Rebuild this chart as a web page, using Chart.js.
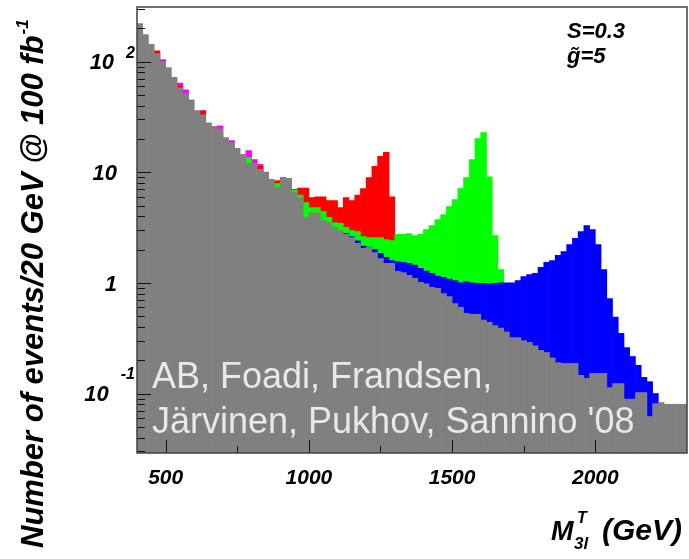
<!DOCTYPE html>
<html>
<head>
<meta charset="utf-8">
<title>M3l transverse mass distribution</title>
<script src="https://cdn.jsdelivr.net/npm/chart.js@4.4.1/dist/chart.umd.min.js"></script>
<style>
  html, body { margin: 0; padding: 0; background: #ffffff; }
  #box { width: 689px; height: 559px; }
</style>
</head>
<body>
<div id="box"><canvas id="plot" width="689" height="559"></canvas></div>
<script>
// Histogram binning (GeV)
const binStart = 400
const binWidth = 20

// Events / 20 GeV, one entry per bin (null = not visible)
const background = [
  220, 175, 143, 118, 100, 88, 72, 58, 51, 45,
  36, 33, 28, 26, 24.5, 20.5, 18.5, 16.4, 14.5, 12.0,
  12.0, 10.6, 10.0, 8.6, 7.3, 9.0, 8.8, 6.6, 5.9, 3.9,
  4.3, 4.3, 3.66, 3.5, 3.17, 2.97, 2.74, 2.57, 2.27, 2.05,
  2.09, 1.88, 1.66, 1.5, 1.5, 1.27, 1.24, 1.17, 1.1, 1.01,
  0.98, 0.91, 0.89, 0.80, 0.75, 0.65, 0.60, 0.53, 0.52, 0.52,
  0.46, 0.44, 0.41, 0.39, 0.36, 0.32, 0.32, 0.30, 0.29, 0.27,
  0.245, 0.235, 0.21, 0.19, 0.187, 0.187, 0.187, 0.146, 0.137, 0.152,
  0.152, 0.152, 0.113, 0.123, 0.123, 0.089, 0.089, 0.102, 0.102, 0.062,
  0.081, 0.083, 0.080, 0.080, 0.080, 0.080
]
const blueTotal = [
  null, null, null, null, null, null, null, null, null, null,
  null, null, null, null, null, null, null, null, null, null,
  null, null, null, null, null, null, null, null, null, null,
  null, null, null, null, null, null, 2.8, 2.62, 2.4, 2.15,
  2.1, 2.0, 1.85, 1.7, 1.59, 1.55, 1.53, 1.5, 1.45, 1.35,
  1.28, 1.22, 1.15, 1.12, 1.08, 1.05, 1.0, 1.02, 1.0, 0.99,
  0.99, 0.98, 0.99, 1.0, 1.0, 1.0, 1.05, 1.14, 1.19, 1.22,
  1.38, 1.53, 1.59, 1.77, 1.92, 2.22, 2.52, 2.91, 3.3, 3.03,
  2.22, 1.32, 0.72, 0.49, 0.35, 0.26, 0.216, 0.18, 0.14, 0.128,
  0.1, null, null, null, null, null
]
const greenTotal = [
  null, null, null, null, null, null, null, null, null, null,
  null, null, null, null, null, null, null, null, null, 13.6,
  null, null, null, null, 7.9, null, null, 6.9, 6.2, 5.3,
  4.8, 4.8, 4.4, 3.9, 3.5, 3.45, 3.17, 2.97, 2.9, 2.62,
  2.57, 2.57, 2.57, 2.46, 2.41, 2.74, 2.74, 2.79, 2.68, 2.74,
  3.03, 3.3, 3.73, 4.15, 4.9, 5.66, 7.1, 8.95, 13.0, 20.1,
  22.8, 9.1, 2.68, 1.32, null, null, null, null, null, null,
  null, null, null, null, null, null, null, null, null, null,
  null, null, null, null, null, null, null, null, null, null,
  null, null, null, null, null, null
]
const redTotal = [
  null, null, null, 125, null, null, null, 60, null, null,
  null, 36, null, null, null, null, null, null, null, null,
  null, 11.3, null, null, 8.4, null, null, 7.0, 7.2, 7.2,
  5.9, 6.0, 6.0, 5.55, 5.55, 4.8, 5.9, 5.55, 6.2, 7.1,
  8.95, 11.3, 13.9, 15.1, 6.0, null, null, null, null, null,
  null, null, null, null, null, null, null, null, null, null,
  null, null, null, null, null, null, null, null, null, null,
  null, null, null, null, null, null, null, null, null, null,
  null, null, null, null, null, null, null, null, null, null,
  null, null, null, null, null, null
]
const magentaTotal = [
  null, null, null, null, 104, null, null, 64, 55.6, null,
  null, null, null, null, 26.3, null, 19.3, null, null, 15.7,
  13.0, 11.8, null, null, null, null, null, null, null, null,
  null, null, null, null, null, null, null, null, null, null,
  null, null, null, null, null, null, null, null, null, null,
  null, null, null, null, null, null, null, null, null, null,
  null, null, null, null, null, null, null, null, null, null,
  null, null, null, null, null, null, null, null, null, null,
  null, null, null, null, null, null, null, null, null, null,
  null, null, null, null, null, null
]

// Axis ticks and labels
const xTickValues = [500, 1000, 1500, 2000]
const xTickLabels = ["500", "1000", "1500", "2000"]
const xMinorValues = [750, 1250, 1750]
const yTickValues = [100, 10, 1, 0.1]
const yTickBase = ["10", "10", "1", "10"]
const yTickExp = ["2", "", "", "-1"]

const yTitle = "Number of events/20 GeV @ 100 fb"
const yTitleExp = "-1"
const paramLines = ["S=0.3", "g\u0303=5"]
const creditLines = ["AB, Foadi, Frandsen,", "Järvinen, Pukhov, Sannino '08"]

const xMin = 400, xMax = 2320
const yMin = 0.029, yMax = 311

// Minor ticks on the log axis (2..9 of each decade)
const yMinorValues = []
;[0.01, 0.1, 1, 10, 100].forEach(d => {
  for (let m = 2; m <= 9; m++) {
    const v = m * d
    if (v > yMin && v < yMax) yMinorValues.push(v)
  }
})

function toPoints(values) {
  const pts = []
  values.forEach((v, i) => {
    if (v !== null) pts.push({ x: binStart + binWidth * (i + 0.5), y: v })
  })
  return pts
}

function font(size, style) {
  return (style || "italic bold") + " " + size + "px \"Liberation Sans\", Arial, sans-serif"
}

// Frame, inside ticks, labels and the texts over the plot
const axisDecor = {
  id: "axisDecor",
  afterDatasetsDraw(chart) {
    const { ctx, chartArea: area, scales } = chart
    const xs = scales.x
    const ys = scales.y
    ctx.save()

    // credit text over the histogram
    ctx.fillStyle = "#e8e8e8"
    ctx.font = font(36, "normal")
    ctx.textAlign = "left"
    ctx.textBaseline = "alphabetic"
    ctx.fillText(creditLines[0], 152, 388)
    ctx.fillText(creditLines[1], 152, 433)

    // ticks drawn inside the frame
    ctx.strokeStyle = "#111111"
    ctx.lineWidth = 1
    ctx.beginPath()
    yMinorValues.forEach(v => {
      const py = Math.round(ys.getPixelForValue(v)) + 0.5
      ctx.moveTo(area.left, py)
      ctx.lineTo(area.left + 8, py)
    })
    yTickValues.forEach(v => {
      const py = Math.round(ys.getPixelForValue(v)) + 0.5
      ctx.moveTo(area.left, py)
      ctx.lineTo(area.left + 14, py)
    })
    xMinorValues.forEach(v => {
      const px = Math.round(xs.getPixelForValue(v)) + 0.5
      ctx.moveTo(px, area.bottom)
      ctx.lineTo(px, area.bottom - 7)
    })
    xTickValues.forEach(v => {
      const px = Math.round(xs.getPixelForValue(v)) + 0.5
      ctx.moveTo(px, area.bottom)
      ctx.lineTo(px, area.bottom - 13)
    })
    ctx.stroke()

    // frame
    ctx.strokeStyle = "#404040"
    ctx.lineWidth = 1.5
    ctx.strokeRect(area.left, area.top, area.right - area.left, area.bottom - area.top)

    // x tick labels
    ctx.fillStyle = "#000000"
    ctx.font = font(21)
    ctx.textAlign = "center"
    xTickValues.forEach((v, i) => {
      ctx.fillText(xTickLabels[i], xs.getPixelForValue(v), 484)
    })

    // y tick labels, ROOT style "10" with raised exponent
    const expLift = { "2": 9, "-1": 20 }
    yTickValues.forEach((v, i) => {
      const py = ys.getPixelForValue(v)
      const exp = yTickExp[i]
      let right = 117
      ctx.textAlign = "right"
      if (exp) {
        ctx.font = font(16)
        ctx.fillText(exp, 135, py - expLift[exp] + 5.7)
        right = 135 - ctx.measureText(exp).width - 12
      }
      ctx.font = font(22)
      ctx.fillText(yTickBase[i], right, py + 7.9)
    })

    // x axis title M^T_3l (GeV)
    ctx.textAlign = "left"
    ctx.font = font(27)
    ctx.fillText("M", 551, 540)
    ctx.font = font(17)
    ctx.fillText("3l", 574, 549)
    ctx.font = font(16)
    ctx.fillText("T", 577, 523)
    ctx.font = font(30)
    ctx.fillText("(GeV)", 602, 540)

    // y axis title, rotated
    ctx.save()
    ctx.translate(43, 548)
    ctx.rotate(-Math.PI / 2)
    ctx.textAlign = "left"
    ctx.font = font(31)
    ctx.fillText(yTitle, 0, 0)
    const w = ctx.measureText(yTitle).width
    ctx.font = font(17)
    ctx.fillText(yTitleExp, w + 1, -15)
    ctx.restore()

    // model parameters, top right
    ctx.textAlign = "left"
    ctx.font = font(22)
    ctx.fillText(paramLines[0], 567, 38)
    ctx.fillText(paramLines[1], 567, 63)

    ctx.restore()
  }
}

const histDefaults = { barPercentage: 1, categoryPercentage: 1, borderWidth: 0, grouped: false }

new Chart(document.getElementById("plot"), {
  type: "bar",
  data: {
    datasets: [
      Object.assign({ label: "background", data: toPoints(background), backgroundColor: "#808080", order: 0 }, histDefaults),
      Object.assign({ label: "blue", data: toPoints(blueTotal), backgroundColor: "#0000ff", order: 1 }, histDefaults),
      Object.assign({ label: "green", data: toPoints(greenTotal), backgroundColor: "#00ff00", order: 2 }, histDefaults),
      Object.assign({ label: "red", data: toPoints(redTotal), backgroundColor: "#ff0000", order: 3 }, histDefaults),
      Object.assign({ label: "magenta", data: toPoints(magentaTotal), backgroundColor: "#ff00ff", order: 4 }, histDefaults)
    ]
  },
  options: {
    responsive: false,
    animation: false,
    devicePixelRatio: 1,
    layout: { padding: { left: 137, right: 2, top: 7, bottom: 106 } },
    plugins: {
      legend: { display: false },
      tooltip: { enabled: false }
    },
    scales: {
      x: { type: "linear", min: xMin, max: xMax, offset: false, display: false },
      y: { type: "logarithmic", min: yMin, max: yMax, display: false }
    }
  },
  plugins: [axisDecor]
})
</script>
</body>
</html>
